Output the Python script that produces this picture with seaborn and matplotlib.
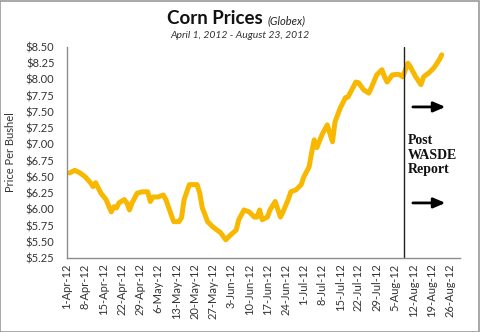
import matplotlib
matplotlib.use("Agg")
import matplotlib.pyplot as plt
from matplotlib.patches import Rectangle
import pandas as pd
import seaborn as sns

# ---- data ----
dates = [
    "2012-04-02", "2012-04-04", "2012-04-06", "2012-04-08", "2012-04-10", "2012-04-11",
    "2012-04-12", "2012-04-13", "2012-04-14", "2012-04-16", "2012-04-18", "2012-04-19",
    "2012-04-20", "2012-04-21", "2012-04-23", "2012-04-24", "2012-04-25", "2012-04-26",
    "2012-04-28", "2012-04-30", "2012-05-02", "2012-05-03", "2012-05-04", "2012-05-06",
    "2012-05-08", "2012-05-09", "2012-05-11", "2012-05-12", "2012-05-14", "2012-05-15",
    "2012-05-16", "2012-05-18", "2012-05-21", "2012-05-22", "2012-05-23", "2012-05-24",
    "2012-05-25", "2012-05-27", "2012-05-30", "2012-06-01", "2012-06-03", "2012-06-05",
    "2012-06-06", "2012-06-08", "2012-06-10", "2012-06-12", "2012-06-13", "2012-06-14",
    "2012-06-15", "2012-06-17", "2012-06-18", "2012-06-20", "2012-06-22", "2012-06-23",
    "2012-06-25", "2012-06-26", "2012-06-28", "2012-06-30", "2012-07-01", "2012-07-03",
    "2012-07-04", "2012-07-05", "2012-07-06", "2012-07-08", "2012-07-10", "2012-07-11",
    "2012-07-12", "2012-07-13", "2012-07-15", "2012-07-17", "2012-07-18", "2012-07-19",
    "2012-07-21", "2012-07-22", "2012-07-24", "2012-07-26", "2012-07-27", "2012-07-29",
    "2012-07-31", "2012-08-01", "2012-08-02", "2012-08-04", "2012-08-06", "2012-08-07",
    "2012-08-08", "2012-08-10", "2012-08-11", "2012-08-13", "2012-08-15", "2012-08-16",
    "2012-08-18", "2012-08-20", "2012-08-22", "2012-08-23",
]
prices = [
    6.56, 6.60, 6.56, 6.50, 6.41, 6.35,
    6.41, 6.33, 6.25, 6.15, 5.96, 6.04,
    6.02, 6.10, 6.15, 6.10, 5.99, 6.10,
    6.25, 6.27, 6.27, 6.12, 6.19, 6.19,
    6.22, 6.15, 5.92, 5.81, 5.81, 5.87,
    6.15, 6.38, 6.38, 6.25, 6.02, 5.92,
    5.81, 5.73, 5.64, 5.53, 5.61, 5.68,
    5.84, 5.99, 5.96, 5.88, 5.88, 5.99,
    5.84, 5.88, 5.99, 6.12, 5.88, 5.96,
    6.15, 6.27, 6.30, 6.38, 6.50, 6.65,
    6.87, 7.07, 6.95, 7.15, 7.30, 7.17,
    7.04, 7.35, 7.56, 7.72, 7.73, 7.81,
    7.96, 7.95, 7.84, 7.79, 7.88, 8.07,
    8.15, 8.04, 7.96, 8.07, 8.08, 8.07,
    8.04, 8.25, 8.19, 8.04, 7.92, 8.04,
    8.10, 8.18, 8.30, 8.38,
]
report_date = "2012-08-08 10:00"
y_ticks = [5.25, 5.50, 5.75, 6.00, 6.25, 6.50, 6.75, 7.00, 7.25, 7.50, 7.75, 8.00, 8.25, 8.50]
x_start, x_end, last_tick = "2012-04-01", "2012-08-30", "2012-08-26"
title = "Corn Prices"
title_note = "(Globex)"
subtitle = "April 1, 2012 - August 23, 2012"
y_label = "Price Per Bushel"
note = "Post\nWASDE\nReport"

df = pd.DataFrame({"Date": pd.to_datetime(dates), "Price": prices})

sns.set_style("white")
plt.rcParams["font.family"] = ["Lato", "DejaVu Sans"]

fig = plt.figure(figsize=(4.8, 3.32), dpi=100)
ax = fig.add_axes([0.1396, 0.2229, 0.8187, 0.6355])

sns.lineplot(data=df, x="Date", y="Price", ax=ax, color="#F8B800",
             linewidth=3.6, solid_capstyle="round", solid_joinstyle="round")

ax.set_xlim(pd.Timestamp(x_start), pd.Timestamp(x_end))
ax.set_ylim(y_ticks[0], y_ticks[-1])
ax.set_yticks(y_ticks)
ax.set_yticklabels([f"${v:.2f}" for v in y_ticks])

week_ticks = pd.date_range(x_start, last_tick, freq="7D")
ax.set_xticks(week_ticks)
ax.set_xticklabels([f"{d.day}-{d.strftime('%b-%y')}" for d in week_ticks], rotation=90)

ax.tick_params(axis="both", length=0, labelsize=8, colors="#333333")
ax.tick_params(axis="y", pad=9)
ax.tick_params(axis="x", pad=4)
ax.set_xlabel("")
ax.set_ylabel(y_label, fontsize=8, color="#333333", labelpad=7)

for s in ["top", "right"]:
    ax.spines[s].set_visible(False)
for s in ["left", "bottom"]:
    ax.spines[s].set_color("#8c8c8c")
    ax.spines[s].set_linewidth(1.0)

ax.axvline(pd.Timestamp(report_date), color="#222222", linewidth=1.0)

ax.text(0.868, 0.488, note, transform=ax.transAxes, ha="left", va="center",
        fontsize=10, fontweight="bold", family=["Liberation Serif", "DejaVu Serif"],
        color="#111111", linespacing=1.15)
for yy in (0.716, 0.261):
    ax.annotate("", xy=(0.97, yy), xytext=(0.873, yy), xycoords="axes fraction",
                arrowprops=dict(arrowstyle="-|>,head_length=0.7,head_width=0.3",
                                color="black", lw=2.0))

fig.text(0.548, 0.928, title, ha="right", va="baseline", fontsize=13.5,
         fontweight="bold", color="#111111")
fig.text(0.558, 0.928, title_note, ha="left", va="baseline", fontsize=8,
         style="italic", color="#222222")
fig.text(0.5, 0.885, subtitle, ha="center", va="baseline", fontsize=7.5,
         style="italic", color="#333333")

fig.add_artist(Rectangle((0.001, 0.001), 0.997, 0.996, transform=fig.transFigure,
                         fill=False, edgecolor="#9a9a9a", linewidth=1.2))

fig.savefig("out.png", dpi=100)
